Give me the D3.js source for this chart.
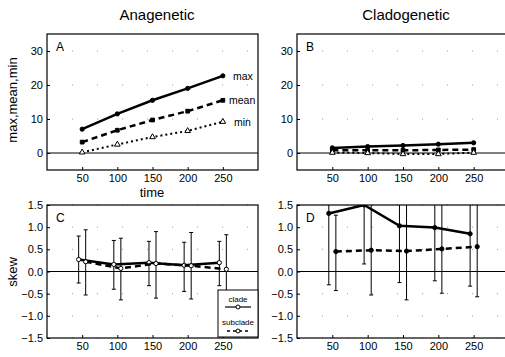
<html>
<head>
<meta charset="utf-8">
<title>skew panels</title>
<style>
  body { margin: 0; background: white; }
  text { font-family: "Liberation Sans", Arial, sans-serif; fill: black; }
  .tick text { font-size: 11px; }
  .tick line { stroke: black; }
</style>
<script src="https://cdn.jsdelivr.net/npm/d3@7"></script>
</head>
<body>
<div id="chart"></div>
<script>
// values
var times = [50, 100, 150, 200, 250];
var xTicks = [50, 100, 150, 200, 250];
var topTicks = [0, 10, 20, 30];
var skewTicks = [-1.5, -1, -0.5, 0, 0.5, 1, 1.5];

var anaMax = [7, 11.5, 15.5, 19, 22.7];
var anaMean = [3.2, 6.7, 9.7, 12.3, 15.5];
var anaMin = [0.2, 2.5, 4.7, 6.5, 9.2];

var cladoMax = [1.5, 1.9, 2.2, 2.6, 3.0];
var cladoMean = [0.8, 0.8, 0.8, 0.9, 1.0];
var cladoMin = [0.1, 0.0, -0.3, -0.3, 0.1];

var anaClade = [0.27, 0.16, 0.2, 0.14, 0.2];
var anaCladeLo = [-0.26, -0.40, -0.32, -0.45, -0.32];
var anaCladeHi = [0.80, 0.70, 0.68, 0.66, 0.68];
var anaSub = [0.22, 0.07, 0.18, 0.13, 0.05];
var anaSubLo = [-0.53, -0.64, -0.60, -0.62, -0.55];
var anaSubHi = [0.94, 0.75, 0.90, 0.88, 0.83];

var cladoClade = [1.31, 1.50, 1.03, 0.99, 0.85];
var cladoCladeLo = [-0.30, 0.17, -0.25, -0.21, -0.33];
var cladoCladeHi = [2.9, 2.8, 2.3, 2.2, 2.0];
var cladoSub = [0.45, 0.48, 0.46, 0.51, 0.56];
var cladoSubLo = [-0.43, -0.53, -0.64, -0.49, -0.57];
var cladoSubHi = [1.27, 1.6, 1.6, 1.6, 1.7];

var svg = d3.select('#chart').append('svg')
    .attr('width', 505)
    .attr('height', 357);

svg.append('text').attr('x', 157).attr('y', 20).attr('text-anchor', 'middle')
    .style('font-size', '15px').text('Anagenetic');
svg.append('text').attr('x', 406).attr('y', 20).attr('text-anchor', 'middle')
    .style('font-size', '15px').text('Cladogenetic');

svg.append('text').attr('transform', 'translate(17,100) rotate(-90)')
    .attr('text-anchor', 'middle').style('font-size', '13px').text('max,mean,min');
svg.append('text').attr('x', 152).attr('y', 197).attr('text-anchor', 'middle')
    .style('font-size', '13px').text('time');
svg.append('text').attr('transform', 'translate(17,272) rotate(-90)')
    .attr('text-anchor', 'middle').style('font-size', '13px').text('skew');

function panel(id, x0, x1, y0, y1, yDomain, yTicks, letter) {
    var x = d3.scaleLinear().domain([0, 300]).range([x0, x1]);
    var y = d3.scaleLinear().domain(yDomain).range([y1, y0]);
    var g = svg.append('g');

    g.append('clipPath').attr('id', id)
        .append('rect').attr('x', x0).attr('y', y0)
        .attr('width', x1 - x0).attr('height', y1 - y0);

    // sparse dotted grid, as in the scan
    g.selectAll('.grid').data(yTicks.filter(function(d) { return d != 0; }))
        .enter().append('line')
        .attr('x1', x0).attr('x2', x1)
        .attr('y1', function(d) { return y(d); })
        .attr('y2', function(d) { return y(d); })
        .attr('stroke', '#999').attr('stroke-width', 1)
        .attr('stroke-dasharray', '1,24');

    g.append('g').attr('transform', 'translate(0,' + y1 + ')')
        .call(d3.axisBottom(x).tickValues(xTicks).tickSizeInner(-3).tickSizeOuter(0).tickPadding(4))
        .call(function(a) { a.select('.domain').remove(); });
    g.append('g').attr('transform', 'translate(' + x0 + ',0)')
        .call(d3.axisLeft(y).tickValues(yTicks).tickSizeInner(-3).tickSizeOuter(0).tickPadding(4))
        .call(function(a) { a.select('.domain').remove(); });

    g.append('rect').attr('x', x0).attr('y', y0)
        .attr('width', x1 - x0).attr('height', y1 - y0)
        .attr('fill', 'none').attr('stroke', 'black').attr('stroke-width', 1.2);

    g.append('line').attr('x1', x0).attr('x2', x1)
        .attr('y1', y(0)).attr('y2', y(0))
        .attr('stroke', 'black').attr('stroke-width', 1);

    g.append('text').attr('x', x0 + 9).attr('y', y0 + 17)
        .style('font-size', '12px').text(letter);

    var plot = g.append('g').attr('clip-path', 'url(#' + id + ')');
    return { x: x, y: y, g: g, plot: plot };
}

function series(p, xs, vals, dash, width, shape, filled) {
    var line = d3.line()
        .x(function(d) { return p.x(d[0]); })
        .y(function(d) { return p.y(d[1]); });
    var pts = xs.map(function(t, i) { return [t, vals[i]]; });
    p.plot.append('path').datum(pts)
        .attr('d', line)
        .attr('fill', 'none').attr('stroke', 'black')
        .attr('stroke-width', width)
        .attr('stroke-dasharray', dash);
    p.plot.selectAll(null).data(pts).enter().append('path')
        .attr('d', d3.symbol().type(shape).size(14))
        .attr('transform', function(d) { return 'translate(' + p.x(d[0]) + ',' + p.y(d[1]) + ')'; })
        .attr('fill', filled ? 'black' : 'white')
        .attr('stroke', 'black').attr('stroke-width', 1);
}

function errBars(p, xs, lo, hi) {
    xs.forEach(function(t, i) {
        var cx = p.x(t);
        p.plot.append('line').attr('x1', cx).attr('x2', cx)
            .attr('y1', p.y(lo[i])).attr('y2', p.y(hi[i]))
            .attr('stroke', 'black').attr('stroke-width', 1);
        [lo[i], hi[i]].forEach(function(v) {
            p.plot.append('line').attr('x1', cx - 2).attr('x2', cx + 2)
                .attr('y1', p.y(v)).attr('y2', p.y(v))
                .attr('stroke', 'black').attr('stroke-width', 1);
        });
    });
}

var tri = d3.symbolTriangle;

// A
var pA = panel('clipA', 47, 258, 34, 170, [-5, 35], topTicks, 'A');
series(pA, times, anaMax, null, 2.5, d3.symbolCircle, true);
series(pA, times, anaMean, '6,4', 2.5, d3.symbolSquare, true);
series(pA, times, anaMin, '2,3', 2, tri, false);
var labels = [['max', anaMax[4], 233], ['mean', anaMean[4], 229], ['min', anaMin[4], 234]];
labels.forEach(function(l) {
    pA.g.append('text').attr('x', l[2]).attr('y', pA.y(l[1]) + 4)
        .style('font-size', '10.5px').text(l[0]);
});

// B
var pB = panel('clipB', 297, 509, 34, 170, [-5, 35], topTicks, 'B');
series(pB, times, cladoMax, null, 2.5, d3.symbolCircle, true);
series(pB, times, cladoMean, '6,4', 2.5, d3.symbolSquare, true);
series(pB, times, cladoMin, '2,3', 2, tri, false);

var cladeX = times.map(function(t) { return t - 5; });
var subX = times.map(function(t) { return t + 5; });

// C
var pC = panel('clipC', 47, 258, 205, 338, [-1.5, 1.5], skewTicks, 'C');
errBars(pC, cladeX, anaCladeLo, anaCladeHi);
errBars(pC, subX, anaSubLo, anaSubHi);
series(pC, cladeX, anaClade, null, 2.5, d3.symbolCircle, false);
series(pC, subX, anaSub, '6,4', 2.5, d3.symbolCircle, false);

// legend in C
var lg = pC.g.append('g');
lg.append('rect').attr('x', 218).attr('y', 290).attr('width', 40).attr('height', 47)
    .attr('fill', 'white').attr('stroke', 'black').attr('stroke-width', 1);
lg.append('text').attr('x', 238).attr('y', 302).attr('text-anchor', 'middle')
    .style('font-size', '8px').text('clade');
lg.append('line').attr('x1', 225).attr('x2', 251).attr('y1', 307).attr('y2', 307)
    .attr('stroke', 'black').attr('stroke-width', 1.2);
lg.append('circle').attr('cx', 238).attr('cy', 307).attr('r', 2)
    .attr('fill', 'white').attr('stroke', 'black');
lg.append('text').attr('x', 238).attr('y', 325).attr('text-anchor', 'middle')
    .style('font-size', '8px').text('subclade');
lg.append('line').attr('x1', 227).attr('x2', 249).attr('y1', 331).attr('y2', 331)
    .attr('stroke', 'black').attr('stroke-width', 1.5).attr('stroke-dasharray', '3,3');
lg.append('circle').attr('cx', 238).attr('cy', 331).attr('r', 2)
    .attr('fill', 'white').attr('stroke', 'black');

// D
var pD = panel('clipD', 297, 509, 205, 338, [-1.5, 1.5], skewTicks, 'D');
errBars(pD, cladeX, cladoCladeLo, cladoCladeHi);
errBars(pD, subX, cladoSubLo, cladoSubHi);
series(pD, cladeX, cladoClade, null, 2.5, d3.symbolCircle, true);
series(pD, subX, cladoSub, '6,4', 2.5, d3.symbolCircle, true);
</script>
</body>
</html>
